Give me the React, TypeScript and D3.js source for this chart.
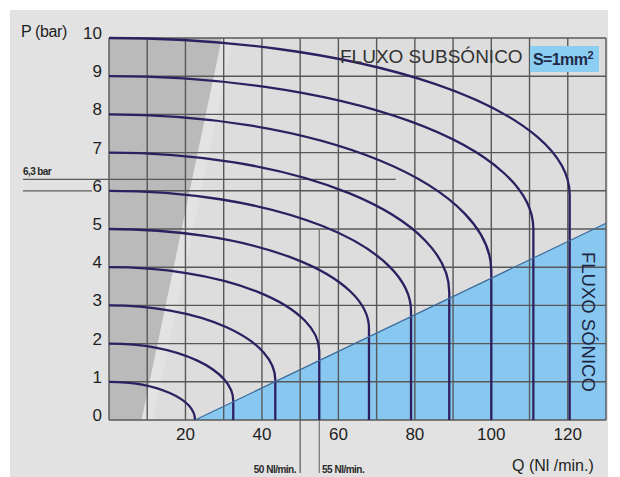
import React from "react";
import * as d3 from "d3";

// ---- data ----
const pressures = [1, 2, 3, 4, 5, 6, 7, 8, 9, 10];
const chokedFlow = [22.5, 32.5, 43.5, 55, 68, 79, 89, 100, 111, 120.5];
const turnPressure = [0, 0.5, 1.05, 1.8, 2.4, 2.85, 3.35, 3.9, 5.0, 5.9];
const sonicLine = [
  { q: 22.5, p: 0 },
  { q: 130, p: 5.15 },
];
const shadeEdge = [
  { q: 29.5, p: 10 },
  { q: 8.5, p: 0 },
];
const xTicks = [20, 40, 60, 80, 100, 120];
const yTicks = [0, 1, 2, 3, 4, 5, 6, 7, 8, 9, 10];
const xGrid = d3.range(0, 131, 10);
const refPressure = 6.3;
const refFlows = [50, 55];

const W = 620;
const H = 477;
const FONT = "'Liberation Sans', Arial, sans-serif";

export default function App() {
  const x = d3.scaleLinear().domain([0, 130]).range([109, 606]);
  const y = d3.scaleLinear().domain([0, 10]).range([420, 38]);

  const line = d3
    .line<{ q: number; p: number }>()
    .x((d) => x(d.q))
    .y((d) => y(d.p));

  const shadePoly = [
    { q: 0, p: 10 },
    shadeEdge[0],
    shadeEdge[1],
    { q: 0, p: 0 },
  ];
  const lightPoly = [
    shadeEdge[0],
    { q: shadeEdge[0].q + 3, p: 10 },
    { q: shadeEdge[1].q + 3, p: 0 },
    shadeEdge[1],
  ];
  const sonicPoly = [sonicLine[0], sonicLine[1], { q: 130, p: 0 }];

  const curvePath = (i: number) => {
    const P = pressures[i];
    const Qc = chokedFlow[i];
    const Pt = turnPressure[i];
    const rx = x(Qc) - x(0);
    const ry = y(Pt) - y(P);
    return `M${x(0)},${y(P)} A${rx},${ry} 0 0 1 ${x(Qc)},${y(Pt)} L${x(Qc)},${y(0)}`;
  };

  return (
    <svg
      width={W}
      height={H}
      style={{ position: "absolute", left: 0, top: 0, background: "#fff" }}
      fontFamily={FONT}
    >
      <rect x={10} y={10} width={598} height={467} fill="#e2e2e2" />
      {/* plot bg */}
      <rect x={x(0)} y={y(10)} width={x(130) - x(0)} height={y(0) - y(10)} fill="#dddddd" />
      <path d={line(lightPoly) + "Z"} fill="#e3e3e3" />
      <path d={line(shadePoly) + "Z"} fill="#bababa" />
      <path d={line(sonicPoly) + "Z"} fill="#88c8f0" />

      {/* grid */}
      {yTicks.map((t) => (
        <line key={"h" + t} x1={x(0)} x2={x(130)} y1={y(t)} y2={y(t)} stroke="#585858" strokeWidth={1.4} />
      ))}
      {xGrid.map((t) => (
        <line key={"v" + t} x1={x(t)} x2={x(t)} y1={y(0)} y2={y(10)} stroke="#585858" strokeWidth={1.4} />
      ))}

      {/* reference lines */}
      <line x1={23} x2={x(75)} y1={y(refPressure)} y2={y(refPressure)} stroke="#5a5a5a" strokeWidth={1.2} />
      <line x1={23} x2={92} y1={y(6)} y2={y(6)} stroke="#5a5a5a" strokeWidth={1.2} />
      <line x1={x(refFlows[0])} x2={x(refFlows[0])} y1={y(0)} y2={473} stroke="#5a5a5a" strokeWidth={1.2} />
      <line x1={x(refFlows[1])} x2={x(refFlows[1])} y1={y(5)} y2={473} stroke="#6a6a6a" strokeWidth={1.1} />

      {/* curves */}
      {pressures.map((p, i) => (
        <path key={"c" + p} d={curvePath(i)} fill="none" stroke="#2e2060" strokeWidth={2.3} />
      ))}
      <path d={line(sonicLine) || ""} fill="none" stroke="#3c6c9c" strokeWidth={1.2} />

      {/* tick labels */}
      {yTicks.map((t) => (
        <text key={"yl" + t} x={102} y={y(t) + 1} textAnchor="end" fontSize={17} fill="#1e1e1e">
          {t}
        </text>
      ))}
      {xTicks.map((t) => (
        <text key={"xl" + t} x={x(t)} y={440} textAnchor="middle" fontSize={17} fill="#1e1e1e">
          {t}
        </text>
      ))}

      <text x={21} y={37} fontSize={16} fill="#1e1e1e" letterSpacing={-0.4}>P (bar)</text>
      <text x={512} y={471} fontSize={16} fill="#1e1e1e">Q (Nl /min.)</text>
      <text x={23} y={175} fontSize={10} fontWeight="bold" fill="#2a2a2a" letterSpacing={-0.6}>6,3 bar</text>
      <text x={296} y={473} fontSize={10} fontWeight="bold" fill="#2a2a2a" textAnchor="end" letterSpacing={-0.5}>
        {refFlows[0]} Nl/min.
      </text>
      <text x={322} y={473} fontSize={10} fontWeight="bold" fill="#2a2a2a" letterSpacing={-0.5}>
        {refFlows[1]} Nl/min.
      </text>

      {/* subsonic label */}
      <text x={340} y={63} fontSize={19} fill="#333">FLUXO SUBSÓNICO</text>
      <rect x={530} y={46} width={69} height={26} fill="#8ccdf2" />
      <text x={533} y={65} fontSize={16} fontWeight="bold" fill="#1e2a48" letterSpacing={-0.6}>
        S=1mm
        <tspan fontSize={11} dy={-6}>2</tspan>
      </text>

      {/* sonic label */}
      <text transform="translate(582,252) rotate(90)" fontSize={18.5} fill="#1e2440">FLUXO SÓNICO</text>
    </svg>
  );
}
